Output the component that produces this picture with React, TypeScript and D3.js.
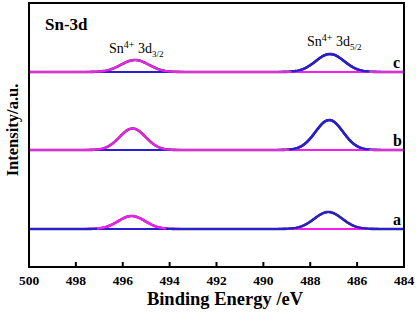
import React from "react";
import * as d3 from "d3";

// ---- data ----
const samples = ["a", "b", "c"];
const baselineOffsets = [38, 117, 195]; // intensity offset of each sample trace
// Sn4+ 3d3/2 component (center eV, height, FWHM eV)
const d32Centers = [495.62, 495.58, 495.48];
const d32Heights = [13, 21.5, 12];
const d32Fwhm = [1.35, 1.3, 1.4];
// Sn4+ 3d5/2 component
const d52Centers = [487.23, 487.19, 487.16];
const d52Heights = [17, 30, 18];
const d52Fwhm = [1.4, 1.38, 1.42];
const xTicks = [500, 498, 496, 494, 492, 490, 488, 486, 484];

const W = 418, H = 312;
const L = 29, R = 404, T = 3, B = 267;
const MAGENTA = "#f51ef0";
const BLUE = "#2b1ed2";

export default function App() {
  const x = d3.scaleLinear().domain([500, 484]).range([L, R]);
  const y = d3.scaleLinear().domain([0, 264]).range([B, T]);
  const grid = d3.range(500, 483.99, -0.05);
  const gauss = (e: number, c: number, h: number, f: number) => {
    const s = f / 2.3548;
    return h * Math.exp(-((e - c) ** 2) / (2 * s * s));
  };
  const line = d3
    .line<[number, number]>()
    .x((d) => x(d[0]))
    .y((d) => y(d[1]));

  const traces = samples.map((s, i) => {
    const off = baselineOffsets[i];
    const p32 = grid.map((e) => [e, off + gauss(e, d32Centers[i], d32Heights[i], d32Fwhm[i])] as [number, number]);
    const p52 = grid.map((e) => [e, off + gauss(e, d52Centers[i], d52Heights[i], d52Fwhm[i])] as [number, number]);
    const env = grid.map((e) => [e, off + gauss(e, d32Centers[i], d32Heights[i], d32Fwhm[i]) + gauss(e, d52Centers[i], d52Heights[i], d52Fwhm[i])] as [number, number]);
    return { s, off, p32, p52, env, magTop: i > 0 };
  });

  const serif = "'Liberation Serif', 'Times New Roman', serif";

  return (
    <svg width={W} height={H} style={{ position: "absolute", left: 0, top: 0, background: "#fff" }} fontFamily={serif}>
      {traces.map((t) => {
        const mag = <path d={line(t.p32)!} fill="none" stroke={MAGENTA} strokeWidth={2.2} />;
        const blu = <path d={line(t.p52)!} fill="none" stroke={BLUE} strokeWidth={2.2} />;
        const lowerPeak = (t.magTop ? t.p52 : t.p32).filter((d) => d[1] - t.off > 0.4);
        return (
          <g key={t.s}>
            <path d={line(t.env)!} fill="none" stroke="#333" strokeWidth={2.6} />
            {t.magTop ? blu : mag}
            {t.magTop ? mag : blu}
            <path d={line(lowerPeak)!} fill="none" stroke={t.magTop ? BLUE : MAGENTA} strokeWidth={2.2} />
            <text x={393} y={y(t.off) - 4} fontSize={16} fontWeight="bold">{t.s}</text>
          </g>
        );
      })}

      {/* frame */}
      <rect x={L} y={T} width={R - L} height={B - T} fill="none" stroke="#000" strokeWidth={2} />
      {xTicks.map((v) => (
        <g key={v}>
          <line x1={x(v)} x2={x(v)} y1={B} y2={B - 5} stroke="#000" strokeWidth={2} />
          <text x={x(v)} y={284.5} fontSize={13.5} fontWeight="bold" textAnchor="middle">{v}</text>
        </g>
      ))}

      <text x={45} y={30} fontSize={17} fontWeight="bold">Sn-3d</text>
      <text x={109} y={52.5} fontSize={14}>
        Sn<tspan fontSize={10} dy={-5}>4+</tspan>
        <tspan dy={5}> 3d</tspan>
        <tspan fontSize={9} dy={4}>3/2</tspan>
      </text>
      <text x={307} y={45.5} fontSize={14}>
        Sn<tspan fontSize={10} dy={-5}>4+</tspan>
        <tspan dy={5}> 3d</tspan>
        <tspan fontSize={9} dy={4}>5/2</tspan>
      </text>

      <text x={225} y={304.5} fontSize={18.5} fontWeight="bold" textAnchor="middle">Binding Energy /eV</text>
      <text transform="translate(18,130) rotate(-90)" fontSize={16.5} fontWeight="bold" textAnchor="middle">Intensity/a.u.</text>
    </svg>
  );
}
